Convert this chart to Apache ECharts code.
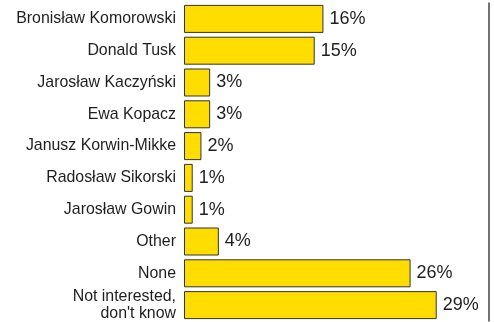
<!DOCTYPE html>
<html>
<head>
<meta charset="utf-8">
<script src="https://cdn.jsdelivr.net/npm/echarts@6/dist/echarts.min.js"></script>
<style>
  html, body { margin: 0; padding: 0; background: #fff; }
  #chart { width: 494px; height: 322px; }
</style>
</head>
<body>
<div id="chart"></div>
<script>
// Survey answers, top to bottom
const categories = [
  'Bronisław Komorowski',
  'Donald Tusk',
  'Jarosław Kaczyński',
  'Ewa Kopacz',
  'Janusz Korwin-Mikke',
  'Radosław Sikorski',
  'Jarosław Gowin',
  'Other',
  'None',
  "Not interested,\ndon't know"
];
// Share of respondents, percent
const values = [16, 15, 3, 3, 2, 1, 1, 4, 26, 29];

const chart = echarts.init(document.getElementById('chart'), null, { renderer: 'canvas' });

chart.setOption({
  animation: false,
  backgroundColor: '#ffffff',
  textStyle: { fontFamily: 'Liberation Sans, Arial, sans-serif' },
  grid: { left: 184, right: 5, top: 3, height: 320, containLabel: false },
  xAxis: {
    type: 'value',
    min: 0,
    max: 35,
    show: false
  },
  yAxis: [
    {
      type: 'category',
      data: categories,
      inverse: true,
      axisLine: { show: false },
      axisTick: { show: false },
      axisLabel: {
        margin: 8,
        color: '#1e1e1e',
        fontSize: 15.9,
        lineHeight: 17,
        fontFamily: 'Liberation Sans, Arial, sans-serif',
        align: 'right'
      }
    },
    {
      // right-hand frame line
      type: 'category',
      data: categories,
      inverse: true,
      position: 'right',
      axisLine: { show: true, lineStyle: { color: '#444444', width: 1.5 } },
      axisTick: { show: false },
      axisLabel: { show: false }
    }
  ],
  series: [
    {
      type: 'bar',
      data: values,
      barWidth: 28,
      itemStyle: {
        color: '#FFDD00',
        borderColor: '#333333',
        borderWidth: 1
      },
      label: {
        show: true,
        position: 'right',
        distance: 6,
        formatter: '{c}%',
        color: '#1e1e1e',
        fontSize: 18,
        fontFamily: 'Liberation Sans, Arial, sans-serif'
      }
    }
  ]
});
</script>
</body>
</html>
